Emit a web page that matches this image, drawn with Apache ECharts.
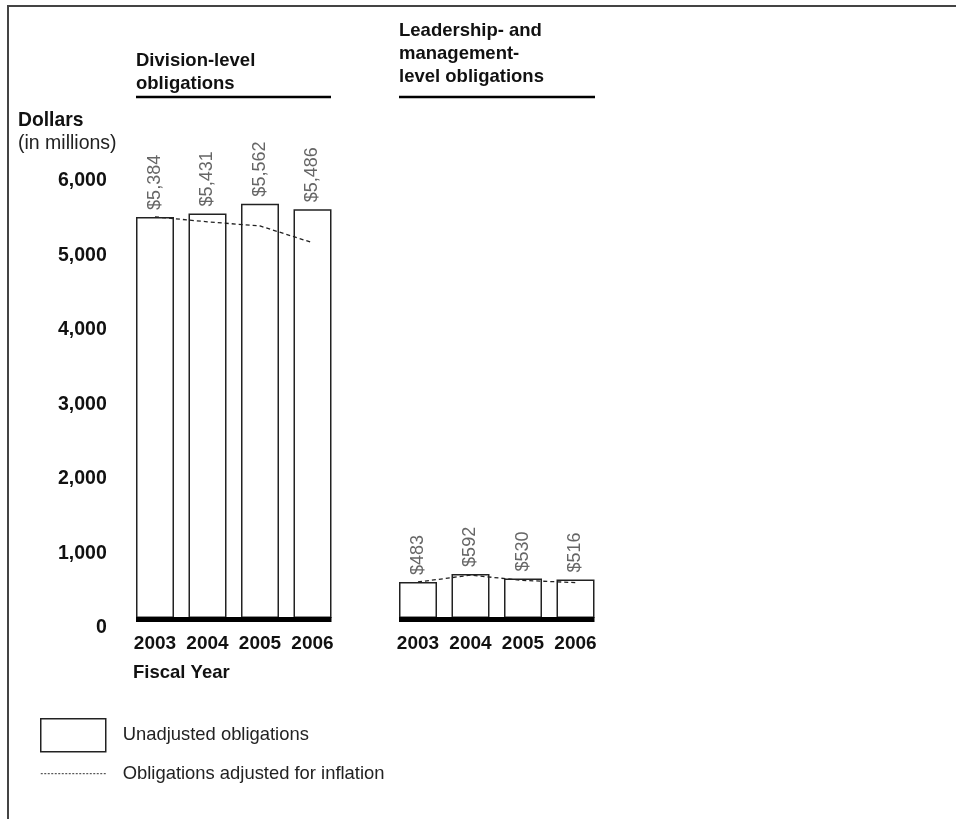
<!DOCTYPE html>
<html>
<head>
<meta charset="utf-8">
<title>Obligations, fiscal years 2003–2006</title>
<script src="https://cdn.jsdelivr.net/npm/echarts@6/dist/echarts.min.js"></script>
<style>
  html, body { margin: 0; padding: 0; background: #fff; }
  #chart { width: 956px; height: 819px; }
</style>
</head>
<body>
<div id="chart"></div>
<script>
// Fiscal years shown in both panels
const years = ['2003', '2004', '2005', '2006'];

// Division-level obligations (dollars in millions)
const divisionUnadjusted = [5384, 5431, 5562, 5486];
const divisionAdjusted = [5384, 5318, 5262, 5038];

// Leadership- and management-level obligations (dollars in millions)
const leadershipUnadjusted = [483, 592, 530, 516];
const leadershipAdjusted = [483, 575, 505, 475];

// Value axis ticks
const yMin = 0;
const yMax = 6000;
const yStep = 1000;

const FONT = '"Liberation Sans", Arial, Helvetica, sans-serif';
const BAR_W = 38;

const fmt = v => v.toLocaleString('en-US');

function baseline(xi, yi) {
  // thick rule under the bars, from the first bar's left edge to the last bar's right edge
  return {
    type: 'custom',
    xAxisIndex: xi,
    yAxisIndex: yi,
    silent: true,
    z: 5,
    data: [[0, 0]],
    renderItem: function (params, api) {
      const a = api.coord([0, 0]);
      const b = api.coord([years.length - 1, 0]);
      return {
        type: 'rect',
        shape: { x: a[0] - BAR_W / 2, y: a[1] - 1, width: b[0] - a[0] + BAR_W, height: 5 },
        style: { fill: '#000' }
      };
    }
  };
}

function barSeries(data, xi, yi) {
  return {
    name: 'Unadjusted obligations',
    type: 'bar',
    xAxisIndex: xi,
    yAxisIndex: yi,
    data: data,
    barWidth: BAR_W,
    itemStyle: { color: '#fff', borderColor: '#222', borderWidth: 1.5 },
    label: {
      show: true,
      position: 'top',
      rotate: 90,
      align: 'left',
      verticalAlign: 'middle',
      distance: 7,
      formatter: p => '$' + fmt(p.value),
      color: '#666',
      fontFamily: FONT,
      fontSize: 18
    },
    emphasis: { disabled: true },
    z: 2
  };
}

function lineSeries(data, xi, yi) {
  return {
    name: 'Obligations adjusted for inflation',
    type: 'line',
    xAxisIndex: xi,
    yAxisIndex: yi,
    data: data,
    symbol: 'none',
    lineStyle: { color: '#222', width: 1.3, type: [4, 3] },
    emphasis: { disabled: true },
    z: 4
  };
}

function xAxisFor(gi) {
  return {
    type: 'category',
    gridIndex: gi,
    data: years,
    axisLine: { show: false },
    axisTick: { show: false },
    axisLabel: {
      interval: 0, hideOverlap: false,
      color: '#111', fontFamily: FONT, fontSize: 19, fontWeight: 'bold', margin: 16
    }
  };
}

const headingStyle = { fontFamily: FONT, fontSize: 18.5, fontWeight: 'bold', lineHeight: 23, color: '#111' };

const chart = echarts.init(document.getElementById('chart'), null, { renderer: 'canvas' });

chart.setOption({
  animation: false,
  backgroundColor: '#fff',
  textStyle: { fontFamily: FONT },
  title: [
    { text: 'Division-level\nobligations', left: 136, top: 49, padding: 0, textStyle: headingStyle },
    { text: 'Leadership- and\nmanagement-\nlevel obligations', left: 399, top: 19.5, padding: 0, textStyle: headingStyle },
    { text: 'Dollars', left: 18, top: 109, padding: 0,
      textStyle: Object.assign({}, headingStyle, { fontSize: 19.3 }) },
    { text: '(in millions)', left: 18, top: 132, padding: 0,
      textStyle: { fontFamily: FONT, fontSize: 19.5, fontWeight: 'normal', lineHeight: 23, color: '#222' } },
    { text: 'Fiscal Year', left: 133, top: 661, padding: 0, textStyle: headingStyle }
  ],
  legend: {
    orient: 'vertical',
    left: 40,
    top: 718,
    padding: 0,
    itemWidth: 65,
    itemHeight: 33,
    itemGap: 8,
    selectedMode: false,
    textStyle: { fontFamily: FONT, fontSize: 18.4, color: '#222', padding: [0, 0, 0, 12] },
    data: [
      { name: 'Unadjusted obligations', icon: 'rect',
        itemStyle: { color: '#fff', borderColor: '#222', borderWidth: 1.5 } },
      { name: 'Obligations adjusted for inflation',
        itemStyle: { color: 'transparent', borderWidth: 0, opacity: 0 },
        lineStyle: { color: '#333', width: 1, type: [2, 1.5] } }
    ]
  },
  grid: [
    { left: 128.75, top: 171, width: 210, height: 447 },
    { left: 391.75, top: 171, width: 210, height: 447 }
  ],
  xAxis: [xAxisFor(0), xAxisFor(1)],
  yAxis: [
    {
      type: 'value', gridIndex: 0, min: yMin, max: yMax, interval: yStep,
      axisLine: { show: false }, axisTick: { show: false }, splitLine: { show: false },
      axisLabel: {
        formatter: v => fmt(v),
        color: '#111', fontFamily: FONT, fontSize: 19.5, fontWeight: 'bold',
        margin: 22, verticalAlign: 'top', lineHeight: 20
      }
    },
    {
      type: 'value', gridIndex: 1, min: yMin, max: yMax, interval: yStep, show: false,
      splitLine: { show: false }
    }
  ],
  series: [
    barSeries(divisionUnadjusted, 0, 0),
    lineSeries(divisionAdjusted, 0, 0),
    baseline(0, 0),
    barSeries(leadershipUnadjusted, 1, 1),
    lineSeries(leadershipAdjusted, 1, 1),
    baseline(1, 1)
  ],
  graphic: [
    // page frame (top and left edges)
    { type: 'polyline', silent: true,
      shape: { points: [[8, 819], [8, 6], [956, 6]] },
      style: { stroke: '#444', lineWidth: 2, fill: null } },
    // rules under the panel headings
    { type: 'line', silent: true,
      shape: { x1: 136, y1: 97, x2: 331, y2: 97 },
      style: { stroke: '#000', lineWidth: 2.5 } },
    { type: 'line', silent: true,
      shape: { x1: 399, y1: 97, x2: 595, y2: 97 },
      style: { stroke: '#000', lineWidth: 2.5 } }
  ]
});
</script>
</body>
</html>
